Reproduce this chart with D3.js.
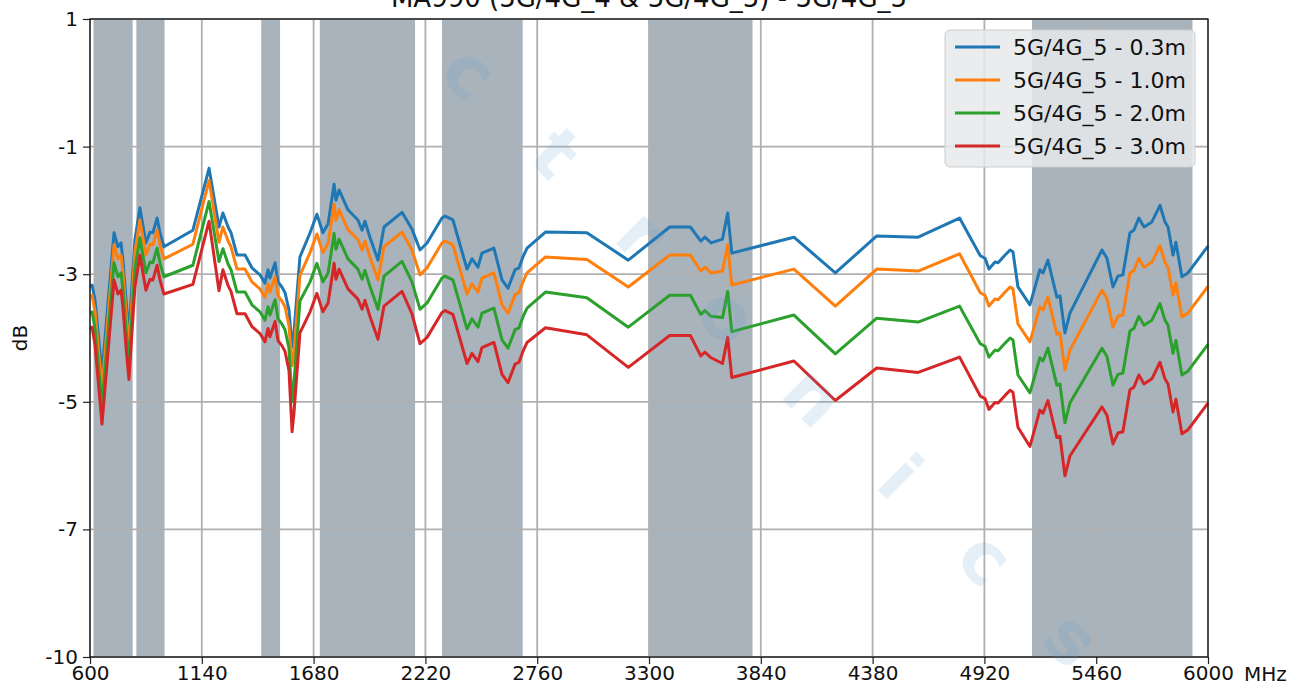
<!DOCTYPE html>
<html>
<head>
<meta charset="utf-8">
<script src="https://cdn.jsdelivr.net/npm/d3@7"></script>
<style>
html,body{margin:0;padding:0;background:#fff;}
svg{display:block;}
text{font-family:"DejaVu Sans",sans-serif;}
</style>
</head>
<body>
<svg id="chart" width="1305" height="693"></svg>
<script>
const titleText = "MA990 (5G/4G_4 & 5G/4G_5) - 5G/4G_5";
const yLabel = "dB";
const xUnit = "MHz";
const xTicks = [600, 1140, 1680, 2220, 2760, 3300, 3840, 4380, 4920, 5460, 6000];
const yTickPos = [1, -1, -3, -5, -7, -9];
const yTickLabels = ["1", "-1", "-3", "-5", "-7", "-10"];
const seriesNames = ["5G/4G_5 - 0.3m", "5G/4G_5 - 1.0m", "5G/4G_5 - 2.0m", "5G/4G_5 - 3.0m"];
const seriesColors = ["#1f77b4", "#ff7f0e", "#2ca02c", "#d62728"];
const bandStart = [617, 824, 1427, 1710, 2300, 3300, 5150];
const bandEnd   = [806, 960, 1518, 2170, 2690, 3800, 5925];
const watermarkLetters = ["c", "t", "r", "o", "n", "i", "c", "s"];

const freqs = [600,610,624,658,716,735,750,759,774,788,817,841,870,890,904,924,938,957,1097,1175,
1223,1242,1267,1281,1310,1349,1382,1421,1445,1460,1469,1494,1508,1527,1542,1561,1576,1585,1614,1663,
1696,1725,1750,1779,1788,1803,1846,1894,1914,1928,1952,1991,2020,2107,2155,2194,2228,2300,2315,2353,
2421,2445,2474,2493,2551,2590,2619,2653,2672,2691,2711,2800,3000,3200,3400,3500,3550,3570,3600,3655,
3680,3700,4000,4200,4400,4600,4800,4900,4923,4942,4971,4986,5020,5044,5058,5082,5140,5188,5203,5227,
5270,5285,5309,5333,5488,5512,5541,5565,5589,5623,5642,5666,5691,5729,5768,5792,5807,5831,5845,5874,
5903,6000];

const s03 = [-3.20,-3.17,-3.40,-4.55,-2.35,-2.57,-2.51,-2.78,-3.40,-3.92,-2.46,-1.96,-2.51,-2.34,-2.35,-2.12,-2.35,-2.57,-2.31,-1.34,
-2.26,-2.04,-2.26,-2.35,-2.70,-2.70,-2.90,-3.01,-3.14,-2.93,-3.06,-2.82,-3.12,-3.20,-3.29,-3.56,-4.14,-3.92,-2.73,-2.35,
-2.06,-2.35,-2.21,-1.59,-1.84,-1.68,-1.99,-2.15,-2.31,-2.17,-2.42,-2.78,-2.26,-2.03,-2.29,-2.62,-2.51,-2.12,-2.09,-2.15,
-2.92,-2.76,-2.89,-2.67,-2.59,-3.09,-3.22,-2.93,-2.90,-2.73,-2.59,-2.34,-2.35,-2.78,-2.26,-2.26,-2.48,-2.42,-2.51,-2.45,
-2.04,-2.67,-2.42,-2.98,-2.40,-2.42,-2.12,-2.71,-2.75,-2.92,-2.81,-2.82,-2.70,-2.62,-2.65,-3.20,-3.48,-2.93,-2.98,-2.78,
-3.36,-3.34,-3.92,-3.61,-2.62,-2.75,-3.20,-3.03,-3.01,-2.35,-2.31,-2.12,-2.26,-2.18,-1.92,-2.18,-2.26,-2.70,-2.50,-3.04,
-2.98,-2.56];

const s10 = [-3.36,-3.33,-3.58,-4.80,-2.54,-2.76,-2.70,-2.97,-3.60,-4.15,-2.65,-2.15,-2.70,-2.53,-2.54,-2.31,-2.54,-2.76,-2.53,-1.53,
-2.50,-2.26,-2.48,-2.57,-2.92,-2.92,-3.12,-3.23,-3.36,-3.15,-3.28,-3.04,-3.34,-3.42,-3.51,-3.81,-4.43,-4.24,-3.02,-2.66,
-2.37,-2.66,-2.52,-1.90,-2.15,-1.99,-2.30,-2.46,-2.62,-2.48,-2.73,-3.09,-2.57,-2.34,-2.62,-3.01,-2.90,-2.51,-2.48,-2.54,
-3.31,-3.15,-3.28,-3.06,-2.98,-3.48,-3.61,-3.32,-3.29,-3.12,-2.98,-2.73,-2.77,-3.20,-2.70,-2.70,-2.95,-2.89,-2.98,-2.95,
-2.54,-3.17,-2.92,-3.50,-2.92,-2.95,-2.68,-3.29,-3.33,-3.50,-3.39,-3.40,-3.28,-3.20,-3.23,-3.78,-4.06,-3.51,-3.56,-3.36,
-3.94,-3.92,-4.50,-4.19,-3.25,-3.38,-3.83,-3.66,-3.64,-2.98,-2.94,-2.75,-2.89,-2.81,-2.55,-2.81,-2.89,-3.33,-3.13,-3.67,
-3.61,-3.19];

const s20 = [-3.62,-3.59,-3.85,-5.05,-2.82,-3.04,-2.98,-3.25,-3.86,-4.38,-2.93,-2.43,-2.98,-2.81,-2.82,-2.59,-2.82,-3.04,-2.86,-1.86,
-2.80,-2.60,-2.84,-2.93,-3.28,-3.28,-3.48,-3.59,-3.72,-3.51,-3.64,-3.40,-3.70,-3.78,-3.87,-4.16,-5.00,-4.71,-3.42,-3.12,
-2.83,-3.12,-2.98,-2.36,-2.61,-2.45,-2.76,-2.92,-3.08,-2.94,-3.19,-3.55,-3.03,-2.80,-3.12,-3.55,-3.45,-3.06,-3.03,-3.09,
-3.86,-3.70,-3.83,-3.61,-3.53,-4.03,-4.16,-3.87,-3.84,-3.67,-3.53,-3.28,-3.37,-3.83,-3.33,-3.33,-3.63,-3.57,-3.66,-3.68,
-3.27,-3.90,-3.64,-4.25,-3.69,-3.75,-3.50,-4.09,-4.13,-4.30,-4.19,-4.20,-4.08,-4.00,-4.03,-4.58,-4.86,-4.31,-4.36,-4.16,
-4.74,-4.72,-5.33,-5.02,-4.16,-4.29,-4.74,-4.57,-4.55,-3.89,-3.85,-3.66,-3.80,-3.72,-3.46,-3.72,-3.80,-4.24,-4.04,-4.58,
-4.52,-4.10];

const s30 = [-3.86,-3.83,-4.10,-5.35,-3.09,-3.31,-3.25,-3.52,-4.14,-4.65,-3.20,-2.70,-3.25,-3.08,-3.09,-2.86,-3.09,-3.31,-3.16,-2.17,
-3.26,-2.93,-3.18,-3.27,-3.62,-3.62,-3.82,-3.93,-4.06,-3.85,-3.98,-3.74,-4.04,-4.12,-4.21,-4.51,-5.47,-5.18,-3.92,-3.59,
-3.30,-3.59,-3.45,-2.83,-3.08,-2.92,-3.23,-3.39,-3.55,-3.41,-3.66,-4.02,-3.50,-3.27,-3.62,-4.09,-3.99,-3.60,-3.57,-3.63,
-4.40,-4.24,-4.37,-4.15,-4.07,-4.57,-4.70,-4.41,-4.38,-4.21,-4.07,-3.84,-3.95,-4.46,-3.96,-3.96,-4.28,-4.22,-4.31,-4.40,
-3.99,-4.62,-4.36,-4.98,-4.47,-4.54,-4.30,-4.91,-4.95,-5.12,-5.01,-5.02,-4.90,-4.82,-4.85,-5.40,-5.70,-5.13,-5.18,-4.98,
-5.56,-5.54,-6.16,-5.85,-5.08,-5.21,-5.66,-5.49,-5.47,-4.81,-4.77,-4.58,-4.72,-4.64,-4.38,-4.64,-4.72,-5.16,-4.96,-5.50,
-5.44,-5.02];

const seriesValues = [s03, s10, s20, s30];

const svg = d3.select("#chart");
const W = 1305, H = 693;
const m = {left: 90, right: W - 1208, top: 19, bottom: H - 657};
const x = d3.scaleLinear().domain([600, 6000]).range([m.left, W - m.right]);
const y = d3.scaleLinear().domain([-9, 1]).range([H - m.bottom, m.top]);

// bands
svg.append("g").selectAll("rect").data(bandStart).join("rect")
  .attr("x", (d) => x(d))
  .attr("width", (d, i) => x(bandEnd[i]) - x(d))
  .attr("y", m.top).attr("height", y(-9) - y(1))
  .attr("fill", "#708090").attr("fill-opacity", 0.6);

// grid
const grid = svg.append("g");
grid.selectAll("line.v").data(xTicks).join("line").attr("class", "v")
  .attr("x1", (d) => x(d)).attr("x2", (d) => x(d))
  .attr("y1", m.top).attr("y2", H - m.bottom)
  .attr("stroke", "#b0b0b0").attr("stroke-width", 1.8);
grid.selectAll("line.h").data(yTickPos).join("line").attr("class", "h")
  .attr("y1", (d) => y(d)).attr("y2", (d) => y(d))
  .attr("x1", m.left).attr("x2", W - m.right)
  .attr("stroke", "#b0b0b0").attr("stroke-width", 1.8);

// lines
const line = d3.line().x((d, i) => x(freqs[i])).y((d) => y(d));
svg.append("g").selectAll("path").data(seriesValues).join("path")
  .attr("d", (d) => line(d))
  .attr("fill", "none")
  .attr("stroke", (d, i) => seriesColors[i])
  .attr("stroke-width", 3)
  .attr("stroke-linejoin", "round");

// axes
const xAxis = d3.axisBottom(x).tickValues(xTicks).tickFormat(d3.format("d")).tickSize(7).tickPadding(2);
const gx = svg.append("g").attr("transform", `translate(0,${H - m.bottom})`).call(xAxis);
const yAxis = d3.axisLeft(y).tickValues(yTickPos).tickFormat((d, i) => yTickLabels[i]).tickSize(7).tickPadding(5);
const gy = svg.append("g").attr("transform", `translate(${m.left},0)`).call(yAxis);
[gx, gy].forEach((g) => {
  g.select(".domain").remove();
  g.selectAll("line").attr("stroke", "#222").attr("stroke-width", 1.2);
  g.selectAll("text").style("font-size", "20px").style("fill", "#111");
});

// frame
svg.append("rect").attr("x", m.left).attr("y", m.top)
  .attr("width", W - m.right - m.left).attr("height", H - m.bottom - m.top)
  .attr("fill", "none").attr("stroke", "#111").attr("stroke-width", 1.3);

// labels
svg.append("text").attr("x", 649).attr("y", 7).attr("text-anchor", "middle")
  .style("font-size", "26px").style("fill", "#111").text(titleText);
svg.append("text").attr("transform", `translate(27,${(m.top + H - m.bottom) / 2}) rotate(-90)`)
  .attr("text-anchor", "middle").style("font-size", "20px").style("fill", "#111").text(yLabel);
svg.append("text").attr("x", 1244).attr("y", 681)
  .style("font-size", "20px").style("fill", "#111").text(xUnit);

// legend
const lg = svg.append("g");
lg.append("rect").attr("x", 945).attr("y", 30).attr("width", 250).attr("height", 137)
  .attr("rx", 5).attr("fill", "#e6e9eb").attr("fill-opacity", 0.85)
  .attr("stroke", "#cccccc");
seriesNames.forEach((name, i) => {
  const yy = 47 + i * 33;
  lg.append("line").attr("x1", 955).attr("x2", 1000).attr("y1", yy).attr("y2", yy)
    .attr("stroke", seriesColors[i]).attr("stroke-width", 3);
  lg.append("text").attr("x", 1013).attr("y", yy + 8).style("font-size", "22px")
    .style("fill", "#111").text(name);
});

// watermark letters (faint, diagonal)
const wm = svg.append("g").attr("pointer-events", "none");
watermarkLetters.forEach((ch, i) => {
  const cx = 470 + i * 86, cy = 72 + i * 81;
  wm.append("text")
    .attr("transform", `translate(${cx},${cy}) rotate(45)`)
    .attr("text-anchor", "middle").attr("dy", "0.35em")
    .style("font-size", "72px").style("font-weight", "bold")
    .style("fill", "#5b9bd5").style("fill-opacity", 0.16)
    .text(ch);
});
</script>
</body>
</html>
